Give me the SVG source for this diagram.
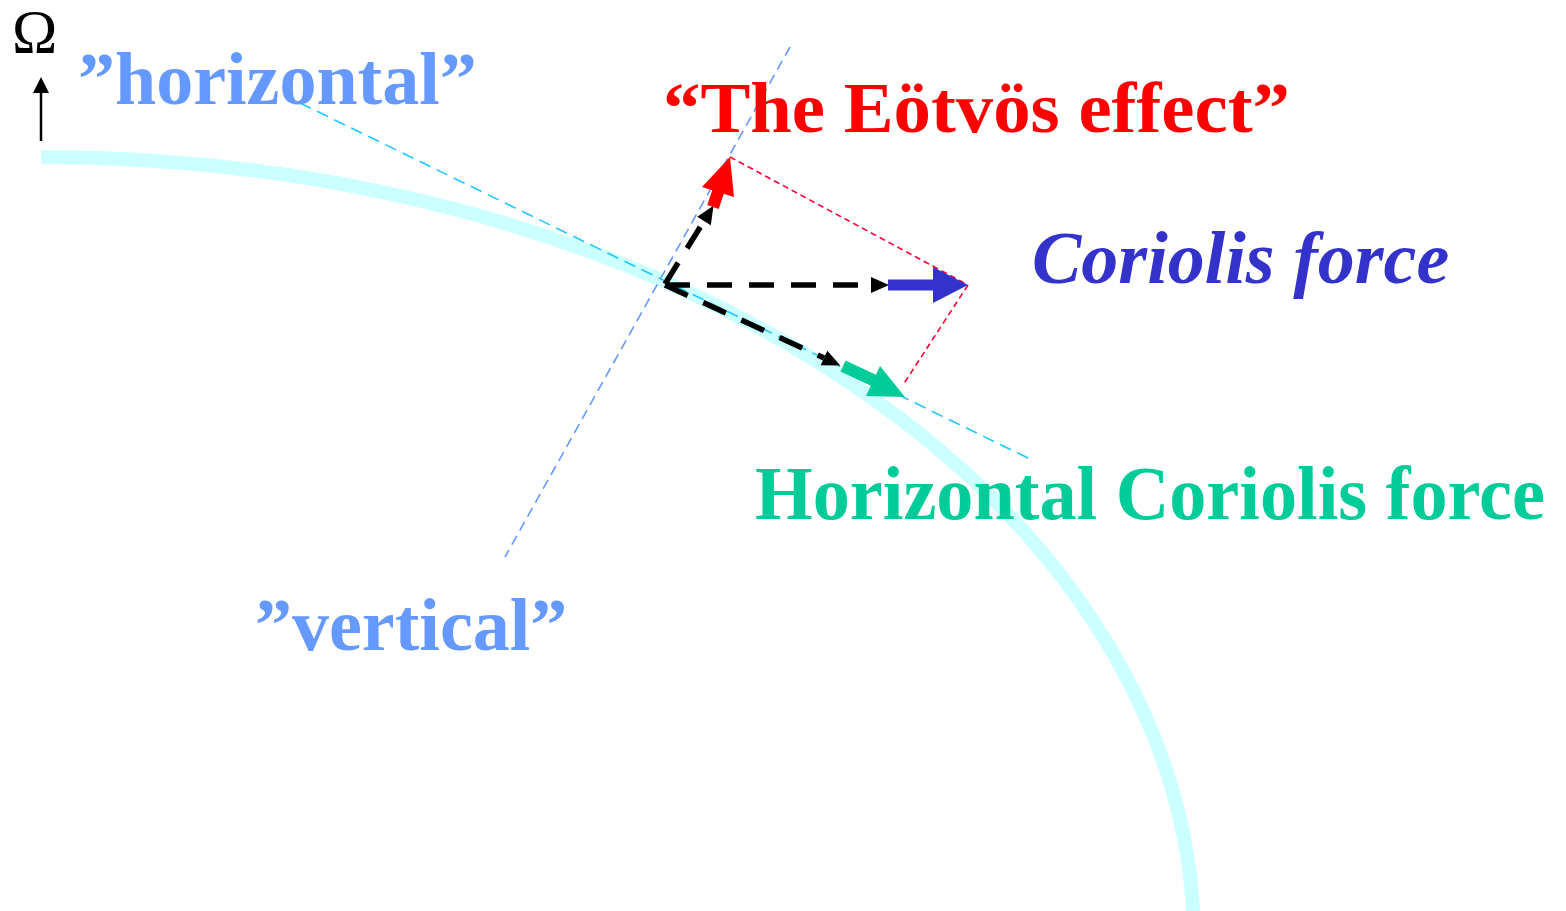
<svg xmlns="http://www.w3.org/2000/svg" width="1566" height="911" viewBox="0 0 1566 911">
<style>
text{font-family:"Liberation Serif","Times New Roman",serif;}
.b{font-weight:bold;}
.lbl{fill:#6699FF;font-weight:bold;font-size:74px;}
.guide{fill:none;stroke-width:1.6;}
.bdash{fill:none;stroke:#000;stroke-width:5.5;stroke-dasharray:25 17;}
</style>
<defs>
<marker id="bh" markerUnits="userSpaceOnUse" markerWidth="18" markerHeight="16" refX="0" refY="8" orient="auto" overflow="visible">
<path d="M0,0 L18,8 L0,16 z" fill="#000"/>
</marker>
<marker id="ah" markerUnits="userSpaceOnUse" markerWidth="10" markerHeight="16" refX="0" refY="8" orient="auto" overflow="visible">
<path d="M0,0 L16,8 L0,16 z" fill="#000"/>
</marker>
</defs>
<rect width="1566" height="911" fill="#fff"/>
<g id="earth">
<path d="M41,157 A1153,785 0 0 1 1194,942" fill="none" stroke="#CCFFFF" stroke-width="14"/>
</g>
<g id="omega">
<text x="12" y="52" font-size="61">Ω</text>
<line x1="41" y1="141" x2="41" y2="93" stroke="#000" stroke-width="2.5" marker-end="url(#ah)"/>
</g>
<g id="connectors">
<line class="guide" x1="300" y1="103" x2="1032" y2="460" stroke="#1EC8FF" stroke-dasharray="12 7"/>
<line class="guide" x1="790" y1="47" x2="505" y2="557" stroke="#6699FF" stroke-dasharray="10 6"/>
<line class="guide" x1="730" y1="157" x2="968" y2="285" stroke="#FF0033" stroke-dasharray="6 4" stroke-width="1.4"/>
<line class="guide" x1="968" y1="285" x2="903" y2="385" stroke="#FF0033" stroke-dasharray="6 4" stroke-width="1.4"/>
<line class="bdash" x1="665" y1="284" x2="704" y2="221" marker-end="url(#bh)"/>
<line class="bdash" x1="665" y1="285" x2="871" y2="285" marker-end="url(#bh)"/>
<line class="bdash" x1="665" y1="285" x2="824" y2="358" marker-end="url(#bh)"/>
</g>
<g id="eotvos-arrow">
<line x1="713" y1="207" x2="719" y2="189" stroke="#FF0000" stroke-width="12"/>
<polygon points="730,157 734,197 702,187" fill="#FF0000"/>
</g>
<g id="coriolis-arrow">
<line x1="888" y1="285" x2="935" y2="285" stroke="#3333CC" stroke-width="11"/>
<polygon points="933,267 968,285 933,303" fill="#3333CC"/>
</g>
<g id="horizontal-coriolis-arrow">
<line x1="843" y1="366" x2="875" y2="381" stroke="#00CC99" stroke-width="12"/>
<polygon points="905,397 866,396 880,366" fill="#00CC99"/>
</g>
<g id="label-horizontal"><text class="lbl" x="78" y="104">”horizontal”</text></g>
<g id="label-vertical"><text class="lbl" x="255" y="650">”vertical”</text></g>
<g id="label-eotvos"><text class="b" x="663" y="132" font-size="72" fill="#FF0000" textLength="627" lengthAdjust="spacingAndGlyphs">“The Eötvös effect”</text></g>
<g id="label-coriolis"><text class="b" x="1032" y="283" font-size="74" font-style="italic" fill="#3333CC">Coriolis force</text></g>
<g id="label-hcoriolis"><text class="b" x="755" y="519" font-size="77" fill="#00CC99" textLength="790" lengthAdjust="spacingAndGlyphs">Horizontal Coriolis force</text></g>
</svg>
